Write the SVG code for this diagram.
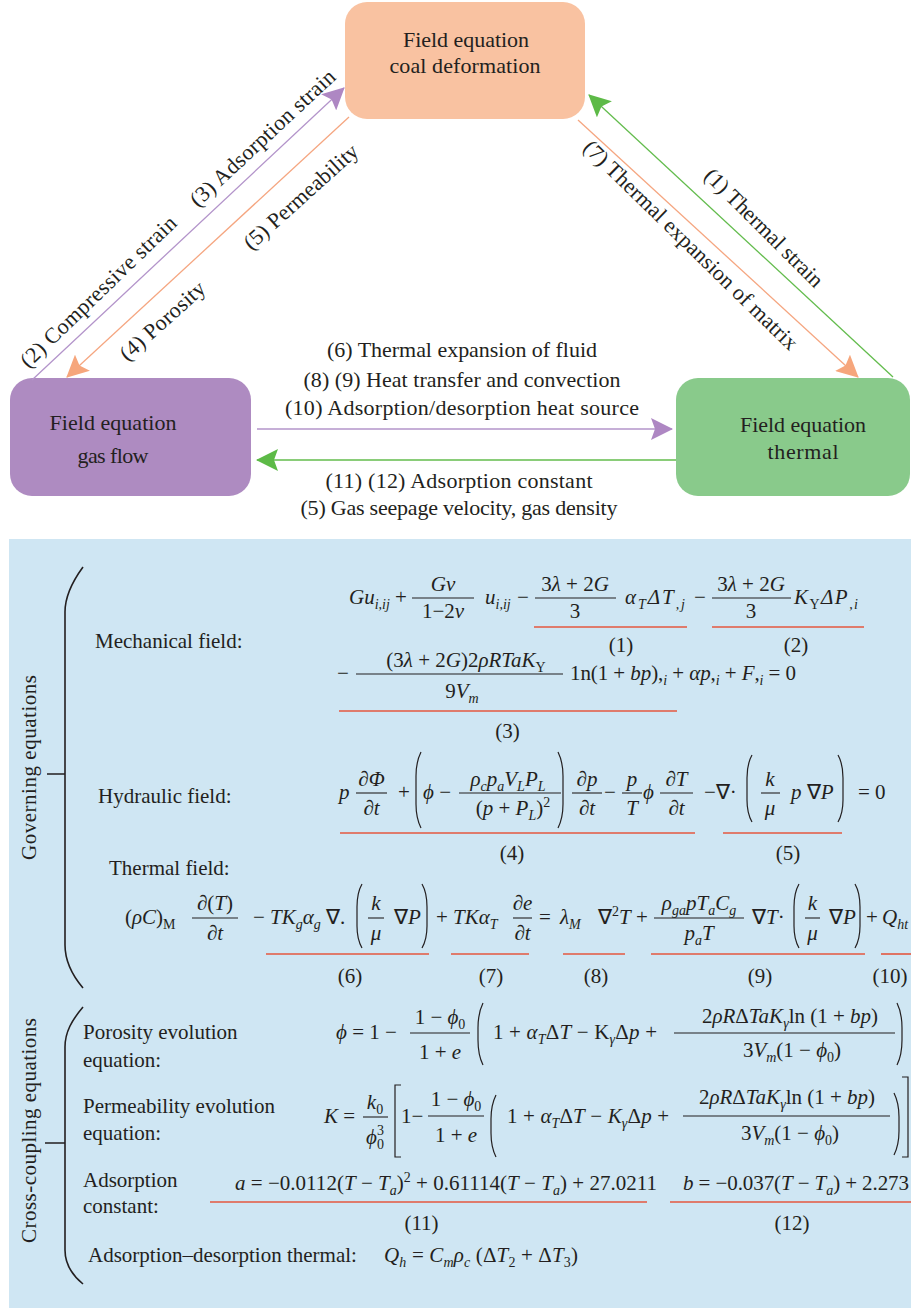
<svg xmlns="http://www.w3.org/2000/svg" width="911" height="1308" viewBox="0 0 911 1308">
<style>
.tx{font-family:"Liberation Serif","Times New Roman",serif;fill:#231F20}
.bx{font-size:22px}
.lb{font-size:22px}
.fl{font-size:21px}
.m{font-size:21px}
.i{font-style:italic}
.n{font-style:normal}
.sb{font-size:14px}
.mid{text-anchor:middle}
.fb{stroke:#231F20;stroke-width:1.1}
.ul{stroke:#E4573F;stroke-width:1.6}
.dl{fill:none;stroke:#231F20;stroke-width:1.2}
.br{fill:none;stroke:#231F20;stroke-width:1.6}
.cn{stroke-width:1.3;fill:none}
</style>
<defs>
<marker id="ahP" viewBox="0 0 22 22" refX="21" refY="11" markerWidth="22" markerHeight="22" markerUnits="userSpaceOnUse" orient="auto"><path d="M0,0 L22,11 L0,22 L4,11 Z" fill="#AE87C3"/></marker>
<marker id="ahO" viewBox="0 0 22 22" refX="21" refY="11" markerWidth="22" markerHeight="22" markerUnits="userSpaceOnUse" orient="auto"><path d="M0,0 L22,11 L0,22 L4,11 Z" fill="#F6A67C"/></marker>
<marker id="ahG" viewBox="0 0 22 22" refX="21" refY="11" markerWidth="22" markerHeight="22" markerUnits="userSpaceOnUse" orient="auto"><path d="M0,0 L22,11 L0,22 L4,11 Z" fill="#5DBA47"/></marker>
</defs>
<rect x="0" y="0" width="911" height="1308" fill="#FFFFFF"/>

<g id="node-coal">
<rect x="345" y="2" width="240" height="117" rx="22" fill="#F9C2A1"/>
<text class="tx bx mid" x="466" y="47" textLength="126">Field equation</text>
<text class="tx bx mid" x="465" y="73" textLength="151">coal deformation</text>
</g>
<g id="node-gas">
<rect x="10" y="378" width="241" height="118" rx="22" fill="#AE8BC1"/>
<text class="tx bx mid" x="113" y="430" textLength="127">Field equation</text>
<text class="tx bx mid" x="113" y="463" textLength="71">gas flow</text>
</g>
<g id="node-thermal">
<rect x="676" y="378" width="234" height="118" rx="22" fill="#89CA8B"/>
<text class="tx bx mid" x="803" y="432" textLength="126">Field equation</text>
<text class="tx bx mid" x="803" y="459" textLength="71">thermal</text>
</g>

<g id="connectors">
<line class="cn" x1="32" y1="380" x2="344" y2="88" stroke="#B394CA" marker-end="url(#ahP)"/>
<line class="cn" x1="349" y1="117" x2="67" y2="377" stroke="#F5A680" marker-end="url(#ahO)"/>
<line class="cn" x1="893" y1="377" x2="589" y2="95" stroke="#63BC4D" marker-end="url(#ahG)"/>
<line class="cn" x1="578" y1="120" x2="858" y2="377" stroke="#F5A680" marker-end="url(#ahO)"/>
<line class="cn" x1="257" y1="429" x2="672" y2="429" stroke="#B394CA" marker-end="url(#ahP)"/>
<line class="cn" x1="676" y1="460" x2="257" y2="460" stroke="#63BC4D" marker-end="url(#ahG)"/>
<text class="tx lb" transform="translate(28.5,369) rotate(-44)" textLength="208">(2) Compressive strain</text>
<text class="tx lb" transform="translate(198,208) rotate(-43)" textLength="190">(3) Adsorption strain</text>
<text class="tx lb" transform="translate(127.5,362) rotate(-42)" textLength="107">(4) Porosity</text>
<text class="tx lb" transform="translate(251.5,251) rotate(-42)" textLength="146">(5) Permeability</text>
<text class="tx lb" transform="translate(703,177) rotate(45)" textLength="158">(1) Thermal strain</text>
<text class="tx lb" transform="translate(582,149) rotate(44.3)" textLength="290">(7) Thermal expansion of matrix</text>
<text class="tx lb mid" x="462" y="357" textLength="270">(6) Thermal expansion of fluid</text>
<text class="tx lb mid" x="462" y="387" textLength="317">(8) (9) Heat transfer and convection</text>
<text class="tx lb mid" x="462" y="415" textLength="354">(10) Adsorption/desorption heat source</text>
<text class="tx lb mid" x="459" y="488" textLength="267">(11) (12) Adsorption constant</text>
<text class="tx lb mid" x="459" y="515" textLength="317">(5) Gas seepage velocity, gas density</text>
</g>

<g id="equations">
<rect x="9" y="539" width="902" height="769" fill="#CFE6F3"/>
<path class="br" d="M83,567 C72,582 65,596 65,612 L65,945 C65,962 72,975 83,988 M47,774 L65,774"/>
<path class="br" d="M83,1007 C72,1020 65,1032 65,1047 L65,1250 C65,1265 72,1275 83,1284 M45,1143 L65,1143"/>
<text class="tx fl mid" transform="translate(36,767.5) rotate(-90)" textLength="185">Governing equations</text>
<text class="tx fl mid" transform="translate(36,1130.5) rotate(-90)" textLength="225">Cross-coupling equations</text>

<!-- Mechanical field -->
<text class="tx fl" x="95" y="648">Mechanical field:</text>
<text class="tx m i" x="349" y="604">Gu<tspan class="sb" dy="5">i,ij</tspan></text>
<text class="tx m" x="395" y="604">+</text>
<line class="fb" x1="412" y1="598" x2="474" y2="598"/>
<text class="tx m i mid" x="443" y="591">Gv</text>
<text class="tx m mid" x="443" y="618">1−2<tspan class="i">v</tspan></text>
<text class="tx m i" x="485" y="604">u<tspan class="sb" dy="5">i,ij</tspan></text>
<text class="tx m" x="517" y="604">−</text>
<line class="fb" x1="535" y1="598" x2="616" y2="598"/>
<text class="tx m mid" x="575" y="591">3<tspan class="i">λ</tspan> + 2<tspan class="i">G</tspan></text>
<text class="tx m mid" x="575" y="618">3</text>
<text class="tx m i" x="625" y="604" textLength="60">α<tspan class="sb" dy="5">T</tspan><tspan dy="-5">ΔT</tspan><tspan class="sb" dy="5">,j</tspan></text>
<text class="tx m" x="694" y="604">−</text>
<line class="fb" x1="712" y1="598" x2="791" y2="598"/>
<text class="tx m mid" x="751" y="591">3<tspan class="i">λ</tspan> + 2<tspan class="i">G</tspan></text>
<text class="tx m mid" x="751" y="618">3</text>
<text class="tx m i" x="794" y="604" textLength="64">K<tspan class="sb n" dy="5">Y</tspan><tspan dy="-5">ΔP</tspan><tspan class="sb" dy="5">,i</tspan></text>
<line class="ul" x1="534" y1="627" x2="687" y2="627"/>
<line class="ul" x1="712" y1="627" x2="864" y2="627"/>
<text class="tx m mid" x="621" y="652">(1)</text>
<text class="tx m mid" x="796" y="652">(2)</text>

<text class="tx m" x="337" y="680">−</text>
<line class="fb" x1="356" y1="674" x2="563" y2="674"/>
<text class="tx m mid" x="466" y="667">(3<tspan class="i">λ</tspan> + 2<tspan class="i">G</tspan>)2<tspan class="i">ρRTaK</tspan><tspan class="sb n" dy="5">Y</tspan></text>
<text class="tx m mid" x="462" y="698">9<tspan class="i">V</tspan><tspan class="sb i" dy="5">m</tspan></text>
<text class="tx m" x="570" y="680" textLength="226">1n(1 + <tspan class="i">bp</tspan>),<tspan class="sb i" dy="5">i</tspan><tspan dy="-5"> + </tspan><tspan class="i">αp</tspan>,<tspan class="sb i" dy="5">i</tspan><tspan dy="-5"> + </tspan><tspan class="i">F</tspan>,<tspan class="sb i" dy="5">i</tspan><tspan dy="-5"> = 0</tspan></text>
<line class="ul" x1="339" y1="711" x2="677" y2="711"/>
<text class="tx m mid" x="507.5" y="738">(3)</text>

<!-- Hydraulic field -->
<text class="tx fl" x="98" y="803">Hydraulic field:</text>
<text class="tx m i" x="339" y="799">p</text>
<line class="fb" x1="356" y1="793" x2="387" y2="793"/>
<text class="tx m i mid" x="371.5" y="786">∂Φ</text>
<text class="tx m i mid" x="371.5" y="815">∂t</text>
<text class="tx m" x="398" y="799">+</text>
<path class="dl" d="M421,752 C417,760 416,768 416,776 L416,804 C416,812 417,820 421,828"/>
<text class="tx m i" x="423" y="799">ϕ <tspan class="n">−</tspan></text>
<line class="fb" x1="459" y1="793" x2="561" y2="793"/>
<text class="tx m i mid" x="508" y="786">ρ<tspan class="sb" dy="5">c</tspan><tspan dy="-5">p</tspan><tspan class="sb" dy="5">a</tspan><tspan dy="-5">V</tspan><tspan class="sb" dy="5">L</tspan><tspan dy="-5">P</tspan><tspan class="sb" dy="5">L</tspan></text>
<text class="tx m i mid" x="513" y="815"><tspan class="n">(</tspan>p <tspan class="n">+</tspan> P<tspan class="sb" dy="5">L</tspan><tspan class="n" dy="-5">)</tspan><tspan class="sb n" dy="-8">2</tspan></text>
<path class="dl" d="M558,752 C562,760 563,768 563,776 L563,804 C563,812 562,820 558,828"/>
<line class="fb" x1="572" y1="793" x2="602" y2="793"/>
<text class="tx m i mid" x="587" y="786">∂p</text>
<text class="tx m i mid" x="587" y="815">∂t</text>
<text class="tx m" x="604" y="799">−</text>
<line class="fb" x1="622" y1="793" x2="642" y2="793"/>
<text class="tx m i mid" x="632" y="786">p</text>
<text class="tx m i mid" x="632" y="815">T</text>
<text class="tx m i" x="643" y="799">ϕ</text>
<line class="fb" x1="660" y1="793" x2="693" y2="793"/>
<text class="tx m i mid" x="676.5" y="786">∂T</text>
<text class="tx m i mid" x="676.5" y="815">∂t</text>
<text class="tx m" x="704" y="799">−∇·</text>
<path class="dl" d="M752,755 C748,762 747,770 747,778 L747,800 C747,808 748,815 752,822"/>
<line class="fb" x1="761" y1="793" x2="780" y2="793"/>
<text class="tx m i mid" x="770" y="786">k</text>
<text class="tx m i mid" x="770" y="815">μ</text>
<text class="tx m i" x="791" y="799">p <tspan class="n">∇</tspan>P</text>
<path class="dl" d="M838,755 C842,762 843,770 843,778 L843,800 C843,808 842,815 838,822"/>
<text class="tx m" x="858" y="799">= 0</text>
<line class="ul" x1="340" y1="833" x2="695" y2="833"/>
<line class="ul" x1="723" y1="833" x2="842" y2="833"/>
<text class="tx m mid" x="512" y="860">(4)</text>
<text class="tx m mid" x="788" y="860">(5)</text>

<!-- Thermal field -->
<text class="tx fl" x="109" y="875">Thermal field:</text>
<text class="tx m" x="125" y="924">(<tspan class="i">ρC</tspan>)<tspan class="sb" dy="5">M</tspan></text>
<line class="fb" x1="192" y1="918" x2="238" y2="918"/>
<text class="tx m mid" x="215" y="910"><tspan class="i">∂</tspan>(<tspan class="i">T</tspan>)</text>
<text class="tx m i mid" x="215" y="940">∂t</text>
<text class="tx m" x="253" y="924">−</text>
<text class="tx m i" x="270" y="924">TK<tspan class="sb" dy="5">g</tspan><tspan dy="-5">α</tspan><tspan class="sb" dy="5">g</tspan><tspan class="n" dy="-5"> ∇.</tspan></text>
<path class="dl" d="M362,884 C358,891 357,899 357,907 L357,926 C357,934 358,941 362,948"/>
<line class="fb" x1="368" y1="918" x2="384" y2="918"/>
<text class="tx m i mid" x="376" y="910">k</text>
<text class="tx m i mid" x="376" y="940">μ</text>
<text class="tx m" x="394" y="924">∇<tspan class="i">P</tspan></text>
<path class="dl" d="M422,884 C426,891 427,899 427,907 L427,926 C427,934 426,941 422,948"/>
<text class="tx m" x="436" y="924">+</text>
<text class="tx m i" x="453" y="924">TKα<tspan class="sb" dy="5">T</tspan></text>
<line class="fb" x1="513" y1="918" x2="532" y2="918"/>
<text class="tx m i mid" x="522.5" y="910">∂e</text>
<text class="tx m i mid" x="522.5" y="940">∂t</text>
<text class="tx m" x="539" y="924">=</text>
<text class="tx m i" x="560" y="924">λ<tspan class="sb" dy="5">M</tspan></text>
<text class="tx m" x="598" y="924">∇<tspan class="sb" dy="-8">2</tspan><tspan class="i" dy="8">T</tspan></text>
<text class="tx m" x="636" y="924">+</text>
<line class="fb" x1="654" y1="918" x2="744" y2="918"/>
<text class="tx m i mid" x="699" y="910">ρ<tspan class="sb" dy="5">ga</tspan><tspan dy="-5">pT</tspan><tspan class="sb" dy="5">a</tspan><tspan dy="-5">C</tspan><tspan class="sb" dy="5">g</tspan></text>
<text class="tx m i mid" x="699" y="940">p<tspan class="sb" dy="5">a</tspan><tspan dy="-5">T</tspan></text>
<text class="tx m" x="752" y="924">∇<tspan class="i">T</tspan>·</text>
<path class="dl" d="M799,884 C795,891 794,899 794,907 L794,926 C794,934 795,941 799,948"/>
<line class="fb" x1="805" y1="918" x2="820" y2="918"/>
<text class="tx m i mid" x="812.5" y="910">k</text>
<text class="tx m i mid" x="812.5" y="940">μ</text>
<text class="tx m" x="829" y="924">∇<tspan class="i">P</tspan></text>
<path class="dl" d="M855,884 C859,891 860,899 860,907 L860,926 C860,934 859,941 855,948"/>
<text class="tx m" x="866" y="924">+</text>
<text class="tx m i" x="882" y="924">Q<tspan class="sb" dy="5">ht</tspan></text>
<line class="ul" x1="266" y1="954" x2="429" y2="954"/>
<line class="ul" x1="451" y1="954" x2="529" y2="954"/>
<line class="ul" x1="563" y1="954" x2="625" y2="954"/>
<line class="ul" x1="651" y1="954" x2="865" y2="954"/>
<line class="ul" x1="881" y1="954" x2="911" y2="954"/>
<text class="tx m mid" x="350" y="983">(6)</text>
<text class="tx m mid" x="491" y="983">(7)</text>
<text class="tx m mid" x="596" y="983">(8)</text>
<text class="tx m mid" x="760" y="983">(9)</text>
<text class="tx m mid" x="890" y="983">(10)</text>

<!-- Porosity evolution -->
<text class="tx fl" x="83" y="1039">Porosity evolution</text>
<text class="tx fl" x="83" y="1067">equation:</text>
<text class="tx m" x="336" y="1039"><tspan class="i">ϕ</tspan> = 1 −</text>
<line class="fb" x1="410" y1="1033" x2="470" y2="1033"/>
<text class="tx m mid" x="440" y="1024">1 − <tspan class="i">ϕ</tspan><tspan class="sb" dy="5">0</tspan></text>
<text class="tx m mid" x="440" y="1059">1 + <tspan class="i">e</tspan></text>
<path class="dl" d="M483,1003 C479,1011 478,1020 478,1028 L478,1040 C478,1048 479,1057 483,1065"/>
<text class="tx m" x="493" y="1039" textLength="164">1 + <tspan class="i">α</tspan><tspan class="sb i" dy="5">T</tspan><tspan dy="-5">Δ</tspan><tspan class="i">T</tspan> − K<tspan class="sb i" dy="5">γ</tspan><tspan dy="-5">Δ</tspan><tspan class="i">p</tspan> +</text>
<line class="fb" x1="674" y1="1033" x2="895" y2="1033"/>
<text class="tx m mid" x="790" y="1023">2<tspan class="i">ρR</tspan>Δ<tspan class="i">TaK</tspan><tspan class="sb i" dy="5">γ</tspan><tspan dy="-5">ln (1 + </tspan><tspan class="i">bp</tspan>)</text>
<text class="tx m mid" x="792" y="1057">3<tspan class="i">V</tspan><tspan class="sb i" dy="5">m</tspan><tspan dy="-5">(1 − </tspan><tspan class="i">ϕ</tspan><tspan class="sb" dy="5">0</tspan><tspan dy="-5">)</tspan></text>
<path class="dl" d="M897,1003 C901,1011 902,1020 902,1028 L902,1040 C902,1048 901,1057 897,1065"/>

<!-- Permeability evolution -->
<text class="tx fl" x="83" y="1113">Permeability evolution</text>
<text class="tx fl" x="83" y="1140">equation:</text>
<text class="tx m" x="324" y="1123"><tspan class="i">K</tspan> =</text>
<line class="fb" x1="363" y1="1117" x2="388" y2="1117"/>
<text class="tx m i mid" x="375" y="1109">k<tspan class="sb n" dy="5">0</tspan></text>
<text class="tx m i" x="366" y="1144">ϕ<tspan class="sb n" dy="5">0</tspan><tspan class="sb n" dx="-7" dy="-14">3</tspan></text>
<path class="dl" d="M401,1085 L395,1085 L395,1157 L401,1157"/>
<text class="tx m" x="401" y="1123">1−</text>
<line class="fb" x1="428" y1="1116" x2="484" y2="1116"/>
<text class="tx m mid" x="456" y="1106">1 − <tspan class="i">ϕ</tspan><tspan class="sb" dy="5">0</tspan></text>
<text class="tx m mid" x="456" y="1142">1 + <tspan class="i">e</tspan></text>
<path class="dl" d="M496,1095 C492,1103 491,1111 491,1119 L491,1133 C491,1141 492,1149 496,1157"/>
<text class="tx m" x="507" y="1123" textLength="162">1 + <tspan class="i">α</tspan><tspan class="sb i" dy="5">T</tspan><tspan dy="-5">Δ</tspan><tspan class="i">T</tspan> − <tspan class="i">K</tspan><tspan class="sb i" dy="5">γ</tspan><tspan dy="-5">Δ</tspan><tspan class="i">p</tspan> +</text>
<line class="fb" x1="683" y1="1116" x2="890" y2="1116"/>
<text class="tx m mid" x="787" y="1104">2<tspan class="i">ρR</tspan>Δ<tspan class="i">TaK</tspan><tspan class="sb i" dy="5">γ</tspan><tspan dy="-5">ln (1 + </tspan><tspan class="i">bp</tspan>)</text>
<text class="tx m mid" x="790" y="1140">3<tspan class="i">V</tspan><tspan class="sb i" dy="5">m</tspan><tspan dy="-5">(1 − </tspan><tspan class="i">ϕ</tspan><tspan class="sb" dy="5">0</tspan><tspan dy="-5">)</tspan></text>
<path class="dl" d="M894,1093 C898,1101 899,1109 899,1117 L899,1131 C899,1139 898,1147 894,1155"/>
<path class="dl" d="M902,1077 L908,1077 L908,1157 L902,1157"/>

<!-- Adsorption constant -->
<text class="tx fl" x="83" y="1187">Adsorption</text>
<text class="tx fl" x="83" y="1213">constant:</text>
<text class="tx m" x="235" y="1190" textLength="422"><tspan class="i">a</tspan> = −0.0112(<tspan class="i">T</tspan> − <tspan class="i">T</tspan><tspan class="sb i" dy="5">a</tspan><tspan dy="-5">)</tspan><tspan class="sb" dy="-8">2</tspan><tspan dy="8"> + 0.61114(</tspan><tspan class="i">T</tspan> − <tspan class="i">T</tspan><tspan class="sb i" dy="5">a</tspan><tspan dy="-5">) + 27.0211</tspan></text>
<text class="tx m" x="683" y="1190" textLength="226"><tspan class="i">b</tspan> = −0.037(<tspan class="i">T</tspan> − <tspan class="i">T</tspan><tspan class="sb i" dy="5">a</tspan><tspan dy="-5">) + 2.273</tspan></text>
<line class="ul" x1="210" y1="1202" x2="647" y2="1202"/>
<line class="ul" x1="670" y1="1202" x2="911" y2="1202"/>
<text class="tx m mid" x="421.5" y="1230">(11)</text>
<text class="tx m mid" x="792" y="1230">(12)</text>

<!-- Adsorption-desorption thermal -->
<text class="tx fl" x="88" y="1262">Adsorption–desorption thermal:</text>
<text class="tx m" x="384" y="1262" textLength="194"><tspan class="i">Q</tspan><tspan class="sb i" dy="5">h</tspan><tspan dy="-5"> = </tspan><tspan class="i">C</tspan><tspan class="sb i" dy="5">m</tspan><tspan class="i" dy="-5">ρ</tspan><tspan class="sb i" dy="5">c</tspan><tspan dy="-5"> (Δ</tspan><tspan class="i">T</tspan><tspan class="sb" dy="5">2</tspan><tspan dy="-5"> + Δ</tspan><tspan class="i">T</tspan><tspan class="sb" dy="5">3</tspan><tspan dy="-5">)</tspan></text>
</g>
</svg>
